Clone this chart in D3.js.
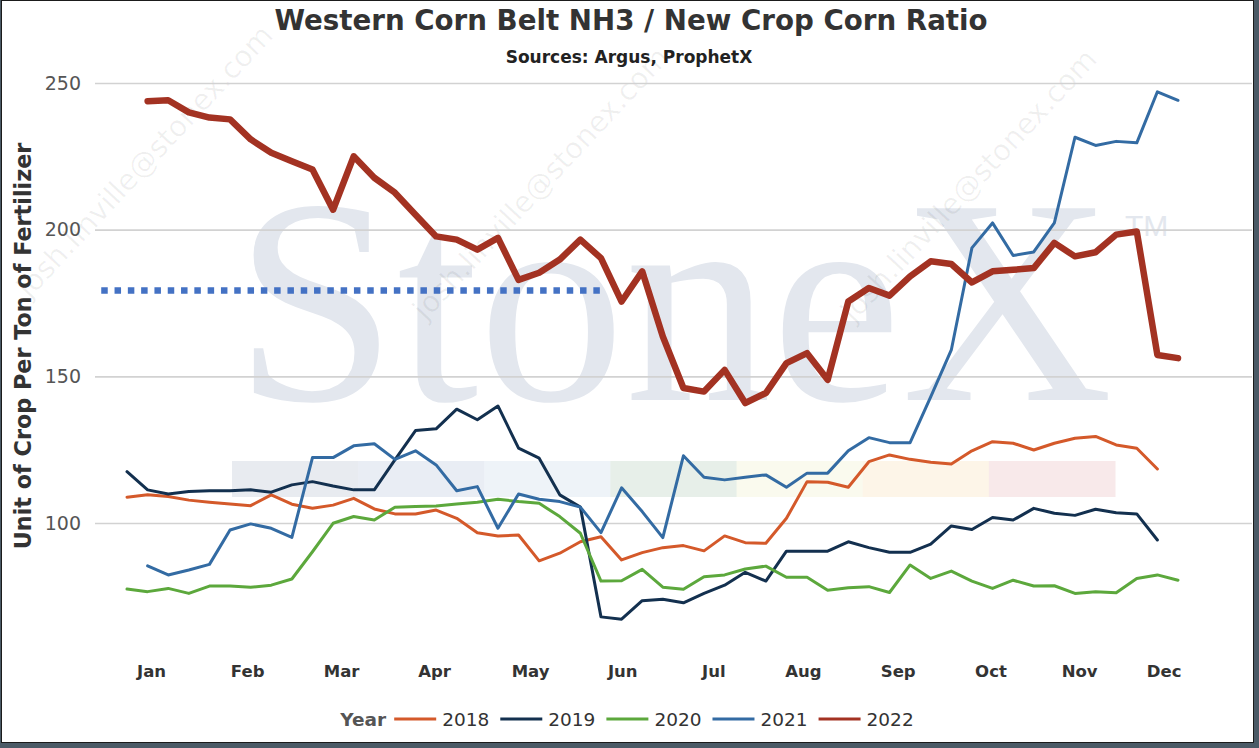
<!DOCTYPE html>
<html lang="en">
<head>
    <meta charset="UTF-8">
    <title>Western Corn Belt NH3 / New Crop Corn Ratio</title>
    <style>
        body { margin: 0; background: #fff; }
        svg { display: block; font-family: 'DejaVu Sans', Verdana, sans-serif; }
    </style>
</head>
<body>
    <svg id="chart" width="1259" height="748"></svg>

    <script src="https://cdnjs.cloudflare.com/ajax/libs/d3/7.8.5/d3.min.js"></script>
    <script>
        // weekly ratio, one array per year (week number = index + first week)
        const years = ['2018', '2019', '2020', '2021', '2022'];
        const firstWeeks = [1, 1, 1, 2, 2];

        const ratio2018 = [108.8, 109.6, 109.0, 107.8, 107.1, 106.5, 105.9, 109.6, 106.4, 105.0,
            106.1, 108.4, 104.8, 103.1, 103.1, 104.4, 101.6, 96.7, 95.6, 95.9,
            87.1, 89.7, 93.6, 95.3, 87.4, 89.9, 91.6, 92.3, 90.5, 95.6,
            93.3, 93.1, 101.6, 114.1, 113.9, 112.2, 120.9, 123.2, 121.7, 120.7,
            120.1, 124.6, 127.7, 127.2, 124.9, 127.2, 128.9, 129.5, 126.6, 125.5, 118.4];

        const ratio2019 = [117.5, 111.3, 109.9, 110.7, 111.0, 111.0, 111.3, 110.5, 113.0, 114.1,
            112.6, 111.3, 111.3, 121.5, 131.5, 132.1, 138.8, 135.2, 139.9, 125.5,
            122.1, 109.6, 105.4, 68.0, 67.2, 73.5, 74.0, 72.8, 76.0, 78.8,
            83.2, 80.2, 90.4, 90.4, 90.4, 93.6, 91.6, 90.0, 90.0, 92.8,
            99.0, 97.8, 101.9, 101.0, 105.0, 103.3, 102.6, 104.7, 103.5, 103.1, 94.2];

        const ratio2020 = [77.5, 76.6, 77.7, 76.0, 78.5, 78.5, 78.1, 78.8, 80.9, 90.2,
            99.9, 102.2, 101.0, 105.4, 105.6, 105.8, 106.5, 107.1, 108.1, 107.3,
            106.7, 102.2, 96.5, 80.2, 80.3, 84.2, 78.1, 77.4, 81.7, 82.3,
            84.3, 85.3, 81.5, 81.5, 77.1, 77.9, 78.3, 76.3, 85.7, 81.1,
            83.6, 80.2, 77.7, 80.5, 78.5, 78.6, 76.0, 76.6, 76.2, 81.1, 82.3, 80.5];

        const ratio2021 = [85.4, 82.3, 84.0, 85.9, 97.6, 99.7, 98.2, 95.1, 122.3, 122.3,
            126.3, 127.0, 121.7, 124.6, 119.8, 111.0, 112.4, 98.2, 109.9, 108.1,
            107.3, 105.4, 96.7, 112.0, 103.9, 95.0, 122.9, 115.6, 114.7, 115.6,
            116.4, 112.2, 117.0, 117.0, 124.6, 129.1, 127.4, 127.4, 143.0, 159.0,
            193.8, 202.3, 191.2, 192.4, 202.3, 231.5, 228.7, 230.1, 229.6, 247.0, 244.1];

        const ratio2022 = [243.8, 244.1, 240.0, 238.2, 237.6, 230.8, 226.2, 223.3, 220.5, 206.8,
            225.0, 217.7, 212.6, 205.1, 197.7, 196.6, 193.2, 197.2, 182.9, 185.3,
            189.8, 196.6, 190.3, 175.5, 185.8, 163.6, 146.0, 144.8, 152.2, 140.9,
            144.3, 154.5, 157.9, 148.8, 175.5, 180.1, 177.5, 184.1, 189.2, 188.3,
            182.0, 185.8, 186.3, 186.9, 195.5, 190.9, 192.3, 198.3, 199.4, 157.3, 156.2];

        // dotted reference level (Jan - May)
        const refLevel = [179.3];
        const refWeeks = [-0.25, 24.1];

        const monthLabels = ['Jan', 'Feb', 'Mar', 'Apr', 'May', 'Jun', 'Jul', 'Aug', 'Sep', 'Oct', 'Nov', 'Dec'];
        const monthTickWeeks = [2.17, 6.83, 11.39, 15.9, 20.56, 25.03, 29.45, 33.8, 38.4, 42.9, 47.2, 51.3];
        const yTicks = [100, 150, 200, 250];

        // styles
        const yearColors = ['#d4592a', '#13304f', '#5ca83c', '#336ba3', '#a33222'];
        const yearWidths = [3, 3, 3, 3, 6.5];
        const bandColors = ['#e8ebf0', '#e9edf4', '#eef3f8', '#e7efe9', '#fafaee', '#fdf5e8', '#f8e9ea'];

        var allSeries = [ratio2018, ratio2019, ratio2020, ratio2021, ratio2022].map(function (vals, i) {
            return {
                year: years[i],
                color: yearColors[i],
                width: yearWidths[i],
                points: vals.map(function (v, j) { return { week: firstWeeks[i] + j, value: v }; })
            };
        });

        var svg = d3.select('#chart'),
            width = +svg.attr('width'),
            height = +svg.attr('height');

        var plot = { left: 95, right: 1252, top: 83, bottom: 655 };

        var x = d3.scaleLinear().domain([1, 52]).range([127, 1178]);
        var y = d3.scaleLinear().domain([55, 250]).range([plot.bottom, plot.top]);

        // frame
        svg.append('rect').attr('width', width).attr('height', height).attr('fill', '#4b5a66');
        svg.append('rect')
            .attr('x', 1.5).attr('y', 0.5)
            .attr('width', 1252).attr('height', 742)
            .attr('fill', '#fff')
            .attr('stroke', '#1b1b1b');

        // StoneX watermark
        var wm = svg.append('g').attr('class', 'watermark');
        wm.append('text')
            .attr('x', 234).attr('y', 400)
            .attr('font-family', "'Liberation Serif', 'Times New Roman', serif")
            .attr('font-size', 293)
            .attr('fill', '#e3e7ee')
            .text('StoneX');
        wm.append('text')
            .attr('x', 1125).attr('y', 236)
            .attr('font-family', "'Liberation Sans', Arial, sans-serif")
            .attr('font-size', 30)
            .attr('fill', '#e3e7ee')
            .text('TM');

        var bandW = (1115 - 232) / bandColors.length;
        wm.selectAll('rect.band')
            .data(bandColors)
            .join('rect')
            .attr('class', 'band')
            .attr('x', function (d, i) { return 232 + i * bandW; })
            .attr('y', 461)
            .attr('width', bandW + 0.5)
            .attr('height', 36)
            .attr('fill', function (d) { return d; });

        // faint e-mail stamp
        wm.selectAll('text.mail')
            .data([[152, 168], [548, 190], [976, 192]])
            .join('text')
            .attr('class', 'mail')
            .attr('text-anchor', 'middle')
            .attr('transform', function (d) { return 'translate(' + d[0] + ',' + d[1] + ') rotate(-47)'; })
            .attr('font-size', 29)
            .attr('fill', '#000')
            .attr('fill-opacity', 0.06)
            .text('josh.linville@stonex.com');

        // y axis + grid
        var yAxis = svg.append('g')
            .attr('transform', 'translate(' + plot.left + ',0)')
            .call(d3.axisLeft(y).tickValues(yTicks).tickSize(-(plot.right - plot.left)).tickPadding(14));
        yAxis.select('.domain').remove();
        yAxis.selectAll('.tick line').attr('stroke', '#d2d2d2').attr('stroke-width', 1.6);
        yAxis.selectAll('.tick text')
            .attr('font-family', "'DejaVu Sans', Verdana, sans-serif")
            .attr('font-size', 19)
            .attr('fill', '#555');

        // x axis (month labels only)
        var xAxis = svg.append('g')
            .attr('transform', 'translate(0,' + plot.bottom + ')')
            .call(d3.axisBottom(x)
                .tickValues(monthTickWeeks)
                .tickFormat(function (d, i) { return monthLabels[i]; })
                .tickSize(0)
                .tickPadding(10));
        xAxis.select('.domain').remove();
        xAxis.selectAll('.tick text')
            .attr('font-family', "'DejaVu Sans', Verdana, sans-serif")
            .attr('font-size', 16.5)
            .attr('font-weight', 'bold')
            .attr('fill', '#333');

        // series
        var line = d3.line()
            .x(function (d) { return x(d.week); })
            .y(function (d) { return y(d.value); });

        svg.append('g')
            .selectAll('path')
            .data(allSeries)
            .join('path')
            .attr('d', function (d) { return line(d.points); })
            .attr('fill', 'none')
            .attr('stroke', function (d) { return d.color; })
            .attr('stroke-width', function (d) { return d.width; })
            .attr('stroke-linejoin', 'round')
            .attr('stroke-linecap', 'round');

        // dotted level
        svg.append('line')
            .attr('x1', x(refWeeks[0])).attr('x2', x(refWeeks[1]))
            .attr('y1', y(refLevel[0])).attr('y2', y(refLevel[0]))
            .attr('stroke', '#4472c4')
            .attr('stroke-width', 6.5)
            .attr('stroke-dasharray', '6.5 6.8');

        // titles
        svg.append('text')
            .attr('x', 631).attr('y', 30)
            .attr('text-anchor', 'middle')
            .attr('font-size', 27.7)
            .attr('font-weight', 'bold')
            .attr('fill', '#333')
            .text('Western Corn Belt NH3 / New Crop Corn Ratio');
        svg.append('text')
            .attr('x', 629).attr('y', 63)
            .attr('text-anchor', 'middle')
            .attr('font-size', 17)
            .attr('font-weight', 'bold')
            .attr('fill', '#222')
            .text('Sources: Argus, ProphetX');
        svg.append('text')
            .attr('transform', 'translate(31,346) rotate(-90)')
            .attr('text-anchor', 'middle')
            .attr('font-size', 22.3)
            .attr('font-weight', 'bold')
            .attr('fill', '#333')
            .text('Unit of Crop Per Ton of Fertilizer');

        // legend, laid out from measured text widths and then centred
        var legend = svg.append('g');
        var lx = 0, legendY = 726;
        var yearLabel = legend.append('text')
            .attr('x', lx).attr('y', legendY)
            .attr('font-size', 18.5)
            .attr('font-weight', 'bold')
            .attr('fill', '#555')
            .text('Year');
        lx += yearLabel.node().getComputedTextLength() + 8;
        allSeries.forEach(function (s) {
            legend.append('line')
                .attr('x1', lx).attr('x2', lx + 42)
                .attr('y1', legendY - 7).attr('y2', legendY - 7)
                .attr('stroke', s.color)
                .attr('stroke-width', 3);
            lx += 48;
            var t = legend.append('text')
                .attr('x', lx).attr('y', legendY)
                .attr('font-size', 18.5)
                .attr('fill', '#333')
                .text(s.year);
            lx += t.node().getComputedTextLength() + 11;
        });
        lx -= 11;
        legend.attr('transform', 'translate(' + (627 - lx / 2) + ',0)');
    </script>
</body>
</html>
